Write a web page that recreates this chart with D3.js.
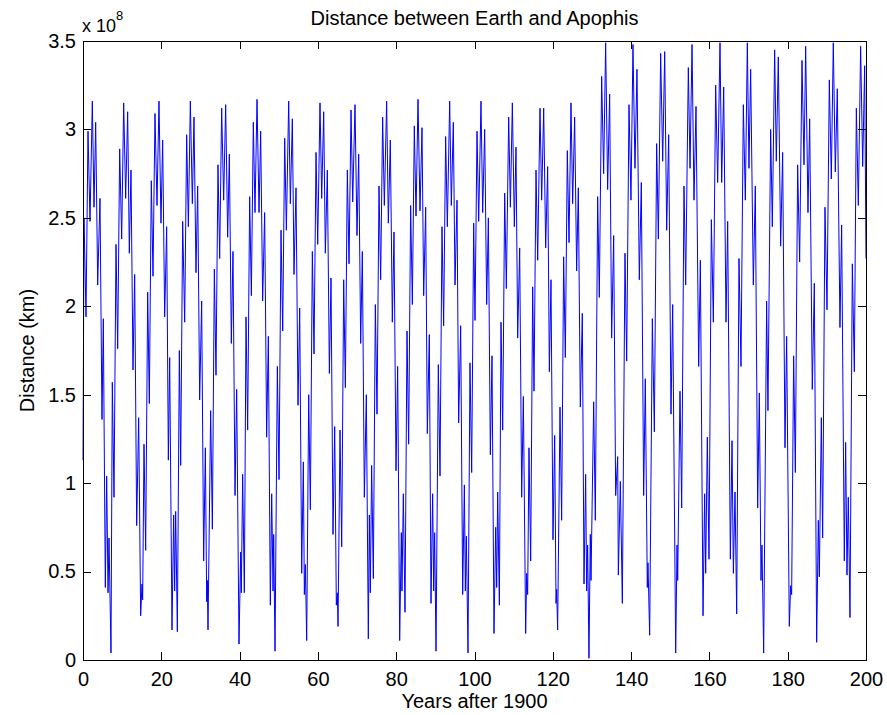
<html>
<head>
    <meta charset="UTF-8">
    <title>Distance between Earth and Apophis</title>
    <script src="https://cdnjs.cloudflare.com/ajax/libs/d3/7.8.5/d3.min.js"></script>
    <style>
        body { margin: 0; background: #fff; }
        svg { display: block; }
        text { font-family: "Liberation Sans", Arial, sans-serif; fill: #000; }
        .axis path, .axis line { stroke: #000; shape-rendering: crispEdges; }
    </style>
</head>
<body>
    <svg id="chart" width="887" height="715"></svg>
    <script>
        // distance in units of 1e8 km at each turn of the line
        var samples = [
            [0, 1.13], [0.26, 2.50], [0.77, 1.94], [1.28, 2.99], [1.79, 2.48], [2.38, 3.16], [2.81, 2.56], [3.24, 3.04], [3.75, 2.12], [4.34, 2.61],
            [4.85, 1.36], [5.19, 1.93], [5.70, 0.41], [6.05, 1.04], [6.39, 0.38], [6.64, 0.69], [7.15, 0.04], [7.49, 1.57], [7.92, 0.92], [8.43, 2.35],
            [8.86, 1.76], [9.37, 2.89], [9.88, 2.38], [10.39, 3.15], [10.90, 2.61], [11.41, 3.10], [11.83, 2.30], [12.26, 2.77], [12.77, 1.64], [13.20, 2.18],
            [13.71, 0.76], [14.22, 1.37], [14.73, 0.25], [15.07, 0.43], [15.24, 0.34], [15.58, 1.22], [16.01, 0.62], [16.52, 2.08], [16.94, 1.45], [17.45, 2.71],
            [17.88, 2.17], [18.39, 3.09], [18.90, 2.57], [19.41, 3.16], [19.92, 2.47], [20.35, 2.94], [20.86, 1.94], [21.37, 2.45], [21.80, 1.13], [22.14, 1.71],
            [22.73, 0.17], [23.16, 0.82], [23.41, 0.39], [23.67, 0.84], [24.10, 0.16],
            [24.61, 1.75], [24.95, 1.10], [25.46, 2.48], [25.97, 1.91], [26.48, 2.97], [26.91, 2.45], [27.42, 3.16], [27.93, 2.58], [28.35, 3.07], [28.86, 2.19],
            [29.29, 2.68], [29.80, 1.47], [30.31, 2.03], [30.82, 0.56], [31.25, 1.20], [31.59, 0.33], [31.76, 0.45], [31.93, 0.17], [32.61, 1.41], [33.04, 0.74],
            [33.55, 2.21], [33.97, 1.61], [34.48, 2.80], [34.91, 2.27], [35.42, 3.12], [35.93, 2.60], [36.44, 3.14], [36.95, 2.39], [37.38, 2.86], [37.89, 1.79],
            [38.31, 2.31], [38.83, 0.93], [39.25, 1.53], [39.85, 0.09], [40.27, 0.61], [40.44, 0.38], [40.78, 1.05], [41.21, 0.38], [41.64, 1.94], [42.06, 1.30],
            [42.57, 2.62], [43.00, 2.06], [43.51, 3.04], [43.93, 2.53], [44.45, 3.17], [44.96, 2.53], [45.38, 2.99], [45.89, 2.03], [46.40, 2.53], [46.91, 1.26],
            [47.34, 1.83], [47.85, 0.31],
            [48.20, 0.94], [48.54, 0.39], [48.71, 0.71], [49.05, 0.05], [49.64, 1.66], [50.07, 1.02], [50.58, 2.43], [51.01, 1.86], [51.52, 2.95], [51.94, 2.43],
            [52.54, 3.16], [52.96, 2.58], [53.47, 3.06], [53.90, 2.18], [54.41, 2.67], [54.92, 1.44], [55.35, 1.99], [55.86, 0.49], [56.28, 1.12], [56.54, 0.37],
            [56.79, 0.54], [57.14, 0.11], [57.65, 1.50], [58.07, 0.85], [58.58, 2.31], [59.01, 1.73], [59.52, 2.87], [59.95, 2.35], [60.54, 3.15], [60.97, 2.61],
            [61.48, 3.10], [61.90, 2.30], [62.41, 2.77], [62.93, 1.62], [63.35, 2.16], [63.86, 0.71], [64.29, 1.32], [64.71, 0.31], [64.97, 0.38], [65.14, 0.19],
            [65.65, 1.30], [66.08, 0.64], [66.59, 2.15], [67.01, 1.54], [67.52, 2.77], [67.95, 2.24], [68.46, 3.11], [68.89, 2.59], [69.48, 3.14], [69.99, 2.40],
            [70.42, 2.86], [70.93, 1.79], [71.35, 2.31], [71.86, 0.92], [72.37, 1.50],
            [72.88, 0.12], [73.14, 0.82], [73.39, 0.38], [73.73, 1.10], [74.16, 0.46], [74.67, 2.01], [75.10, 1.39], [75.61, 2.68], [76.03, 2.15], [76.54, 3.07],
            [76.97, 2.57], [77.56, 3.16], [77.99, 2.47], [78.50, 2.94], [79.01, 1.91], [79.44, 2.42], [79.95, 1.07], [80.37, 1.66], [80.89, 0.11], [81.31, 0.72],
            [81.48, 0.39], [81.82, 0.94], [82.25, 0.27], [82.76, 1.86], [83.18, 1.22], [83.69, 2.57], [84.12, 2.01], [84.63, 3.02], [85.06, 2.51], [85.57, 3.17],
            [86.08, 2.54], [86.59, 3.01], [87.02, 2.06], [87.53, 2.56], [87.95, 1.28], [88.46, 1.84], [88.89, 0.32], [89.31, 0.94], [89.57, 0.39], [89.82, 0.72],
            [90.17, 0.05], [90.76, 1.67], [91.19, 1.04], [91.70, 2.45], [92.12, 1.89], [92.63, 2.96], [93.06, 2.45], [93.66, 3.16], [94.08, 2.57], [94.59, 3.04],
            [95.02, 2.12], [95.53, 2.60], [95.95, 1.34], [96.47, 1.89],
            [96.98, 0.37], [97.41, 0.99], [97.66, 0.39], [97.92, 0.70], [98.34, 0.04], [98.85, 1.68], [99.28, 1.06], [99.79, 2.47], [100.13, 1.92], [100.64, 2.99],
            [101.07, 2.48], [101.66, 3.16], [102.09, 2.53], [102.60, 3.00], [103.11, 2.01], [103.54, 2.50], [104.05, 1.16], [104.47, 1.72], [104.98, 0.15], [105.41, 0.75],
            [105.67, 0.41], [105.92, 0.95], [106.35, 0.31], [106.77, 1.91], [107.20, 1.30], [107.71, 2.64], [108.13, 2.10], [108.73, 3.07], [109.16, 2.56], [109.67, 3.15],
            [110.18, 2.45], [110.60, 2.90], [111.03, 1.82], [111.54, 2.33], [112.05, 0.92], [112.48, 1.49], [113.07, 0.15], [113.33, 0.49], [113.58, 0.37], [113.92, 1.20],
            [114.35, 0.56], [114.86, 2.11], [115.20, 1.52], [115.71, 2.77], [116.14, 2.26], [116.73, 3.12], [117.16, 2.60], [117.67, 3.12], [118.18, 2.33], [118.69, 2.79],
            [119.12, 1.63], [119.54, 2.15], [120.05, 0.68], [120.48, 1.27],
            [120.82, 0.32], [120.99, 0.40], [121.24, 0.17], [121.84, 1.43], [122.26, 0.79], [122.77, 2.28], [123.20, 1.71], [123.71, 2.88], [124.14, 2.36], [124.65, 3.15],
            [125.07, 2.58], [125.58, 3.07], [126.09, 2.20], [126.52, 2.67], [127.03, 1.43], [127.54, 1.96], [127.97, 0.43], [128.39, 1.05], [128.65, 0.39], [128.90, 0.65],
            [129.24, 0.01], [129.58, 0.71], [129.76, 0.45], [130.44, 1.46], [130.86, 0.79], [131.46, 2.62], [131.88, 2.05], [132.48, 3.30], [132.99, 2.75], [133.50, 3.49],
            [134.01, 2.66], [134.52, 3.20], [135.03, 1.82], [135.55, 2.40], [136.06, 0.93], [136.57, 1.15], [136.74, 0.48], [137.25, 1.01], [137.76, 0.32], [138.44, 2.30],
            [138.87, 1.69], [139.46, 3.14], [139.97, 2.60], [140.48, 3.48], [140.99, 2.78], [141.50, 3.34], [142.10, 2.15], [142.61, 2.70], [143.21, 0.93], [143.63, 1.59],
            [144.14, 0.41], [144.31, 0.55], [144.74, 0.14],
            [145.43, 1.93], [145.94, 1.29], [146.53, 2.92], [146.96, 2.38], [147.55, 3.43], [148.07, 2.82], [148.58, 3.44], [149.09, 2.43], [149.60, 2.97], [150.19, 1.39],
            [150.62, 2.01], [151.39, 0.04], [151.73, 0.65], [151.90, 0.45], [152.49, 1.52], [152.92, 0.86], [153.51, 2.68], [153.94, 2.12], [154.62, 3.35], [155.05, 2.78],
            [155.56, 3.48], [156.07, 2.60], [156.58, 3.13], [157.26, 1.66], [157.69, 2.26], [158.37, 0.25], [158.79, 0.94], [159.05, 0.49], [159.47, 1.26], [159.90, 0.57],
            [160.50, 2.49], [161.01, 1.91], [161.60, 3.25], [162.11, 2.70], [162.71, 3.49], [163.14, 2.70], [163.65, 3.24], [164.24, 1.91], [164.67, 2.48], [165.35, 0.57],
            [165.78, 1.24], [166.12, 0.49], [166.54, 0.95], [166.97, 0.26], [167.56, 2.27], [168.07, 1.66], [168.67, 3.14], [169.18, 2.60], [169.69, 3.49],
            [170.11, 2.78], [170.54, 3.34], [171.22, 2.12], [171.73, 2.68], [172.33, 0.86], [172.75, 1.51], [173.18, 0.45], [173.43, 0.65], [173.86, 0.04], [174.62, 2.03],
            [174.96, 1.41], [175.65, 3.00], [176.07, 2.45], [176.67, 3.45], [177.09, 2.82], [177.60, 3.41], [178.20, 2.34], [178.71, 2.87], [179.31, 1.20], [179.73, 1.83],
            [180.41, 0.19], [180.75, 0.42], [181.01, 0.37], [181.52, 1.72], [181.95, 1.06], [182.54, 2.80], [183.05, 2.25], [183.65, 3.39], [184.16, 2.80], [184.59, 3.47],
            [185.18, 2.53], [185.61, 3.06], [186.28, 1.53], [186.80, 2.13], [187.40, 0.10], [187.82, 0.79], [188.08, 0.47], [188.59, 1.37], [188.93, 0.69], [189.52, 2.56],
            [190.04, 1.98], [190.63, 3.28], [191.14, 2.72], [191.65, 3.49], [192.16, 2.76], [192.67, 3.23], [193.35, 1.88], [193.78, 2.46], [194.46, 0.56], [194.80, 1.23],
            [195.14, 0.48], [195.48, 0.92], [195.91, 0.24], [196.51, 2.24], [197.02, 1.63], [197.53, 3.12], [198.04, 2.57], [198.63, 3.47], [199.15, 2.79], [199.66, 3.36],
            [200.0, 2.27]
        ];

        var xTicks = [0, 20, 40, 60, 80, 100, 120, 140, 160, 180, 200];
        var yTicks = [0, 0.5, 1, 1.5, 2, 2.5, 3, 3.5];

        drawChart();

        function drawChart() {
            // plot box in pixels
            var x0 = 83, x1 = 866, y0 = 41, y1 = 660;
            var svg = d3.select("#chart");

            var x = d3.scaleLinear().domain([0, 200]).range([x0, x1]);
            var y = d3.scaleLinear().domain([0, 3.5]).range([y1, y0]);

            // curve first, frame and ticks on top like matlab
            svg.append("path")
                .datum(samples)
                .attr("fill", "none")
                .attr("stroke", "#0000ff")
                .attr("stroke-width", 1)
                .attr("d", d3.line().x(d => x(d[0])).y(d => y(d[1])));

            var tickLen = 8;

            svg.append("g")
                .attr("class", "axis")
                .attr("transform", `translate(0,${y1})`)
                .call(d3.axisBottom(x).tickValues(xTicks).tickSizeInner(-tickLen).tickSizeOuter(0).tickPadding(12).tickFormat(d3.format("d")));

            svg.append("g")
                .attr("class", "axis")
                .attr("transform", `translate(0,${y0})`)
                .call(d3.axisTop(x).tickValues(xTicks).tickSizeInner(-tickLen).tickSizeOuter(0).tickFormat(""));

            svg.append("g")
                .attr("class", "axis")
                .attr("transform", `translate(${x0},0)`)
                .call(d3.axisLeft(y).tickValues(yTicks).tickSizeInner(-tickLen).tickSizeOuter(0).tickPadding(7).tickFormat(d => String(d)));

            svg.append("g")
                .attr("class", "axis")
                .attr("transform", `translate(${x1},0)`)
                .call(d3.axisRight(y).tickValues(yTicks).tickSizeInner(-tickLen).tickSizeOuter(0).tickFormat(""));

            svg.selectAll(".axis").attr("font-family", null).attr("font-size", null);
            svg.selectAll(".axis text").style("font-size", "20px");

            // exponent note above the y axis
            var expo = svg.append("text")
                .attr("x", x0 - 1)
                .attr("y", 32)
                .style("font-size", "18px");
            expo.append("tspan").text("x 10");
            expo.append("tspan").attr("dy", -12).style("font-size", "13px").text("8");

            svg.append("text")
                .attr("x", (x0 + x1) / 2)
                .attr("y", 25)
                .attr("text-anchor", "middle")
                .style("font-size", "20px")
                .text("Distance between Earth and Apophis");

            svg.append("text")
                .attr("x", (x0 + x1) / 2)
                .attr("y", 708)
                .attr("text-anchor", "middle")
                .style("font-size", "20px")
                .text("Years after 1900");

            svg.append("text")
                .attr("transform", `translate(34,${(y0 + y1) / 2}) rotate(-90)`)
                .attr("text-anchor", "middle")
                .style("font-size", "20px")
                .text("Distance (km)");
        }
    </script>
</body>
</html>
